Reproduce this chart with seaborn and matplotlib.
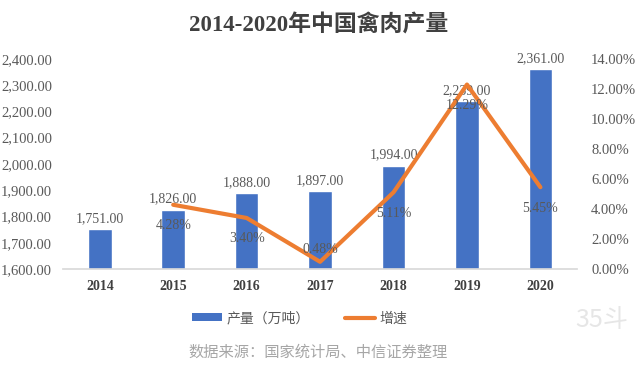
import numpy as np
import matplotlib
matplotlib.use("Agg")
import matplotlib.pyplot as plt
import seaborn as sns
from matplotlib.patches import Patch
from matplotlib.lines import Line2D
from matplotlib.ticker import MultipleLocator

years = ["2014", "2015", "2016", "2017", "2018", "2019", "2020"]
output = [1751, 1826, 1888, 1897, 1994, 2239, 2361]
growth_years = ["2015", "2016", "2017", "2018", "2019", "2020"]
growth = [4.28, 3.40, 0.48, 5.11, 12.29, 5.45]

sns.set_theme(style="white")
plt.rcParams["font.family"] = ["Liberation Serif", "Noto Sans CJK SC"]

BLUE = "#4472C4"
ORANGE = "#ED7D31"

fig = plt.figure(figsize=(6.37, 3.68), dpi=100)
ax = fig.add_axes([0.099, 0.269, 0.807, 0.571])

# bars
sns.barplot(x=years, y=output, color=BLUE, width=0.32, saturation=1, ax=ax)
ax.set_ylim(1600, 2400)
ax.set_xlim(-0.5, 6.5)
ax.yaxis.set_major_locator(MultipleLocator(100))
ax.yaxis.set_major_formatter("{x:,.2f}")
ax.tick_params(axis="y", labelsize=10.5, labelcolor="#595959", length=0, pad=8)
ax.tick_params(axis="x", labelsize=10, labelcolor="#404040", length=0, pad=8)
for lab in ax.get_xticklabels():
    lab.set_fontweight("bold")
for s in ["top", "left", "right"]:
    ax.spines[s].set_visible(False)
ax.spines["bottom"].set_color("#d9d9d9")
ax.set_xlabel("")
ax.set_ylabel("")

# bar labels
for i, v in enumerate(output):
    ax.annotate(f"{v:,.2f}", (i, v), xytext=(0, 3), textcoords="offset points",
                ha="center", va="bottom", fontsize=10, color="#595959")

# growth line on the right axis
ax2 = ax.twinx()
gx = [years.index(y) for y in growth_years]
sns.lineplot(x=gx, y=growth, color=ORANGE, linewidth=3, ax=ax2)
ax2.lines[0].set_solid_joinstyle("round")
ax2.set_ylim(0, 14)
ax2.yaxis.set_major_locator(MultipleLocator(2))
ax2.yaxis.set_major_formatter("{x:.2f}%")
ax2.tick_params(axis="y", labelsize=10.5, labelcolor="#595959", length=0, pad=10)
for s in ["top", "left", "right", "bottom"]:
    ax2.spines[s].set_visible(False)
ax2.set_ylabel("")

# line labels (below the point, the lowest one sits above)
for x, g in zip(gx, growth):
    dy = -15 if g > 1 else 9
    ax2.annotate(f"{g:.2f}%", (x, g), xytext=(0, dy), textcoords="offset points",
                 ha="center", va="center", fontsize=10, color="#595959")

fig.text(0.5, 0.93, "2014-2020年中国禽肉产量", ha="center", va="center",
         fontsize=16.5, fontweight="bold", color="#404040")

handles = [Patch(facecolor=BLUE, edgecolor="none"),
           Line2D([0], [0], color=ORANGE, linewidth=3)]
fig.legend(handles, ["产量（万吨）", "增速"], loc="center", bbox_to_anchor=(0.47, 0.135),
           ncol=2, frameon=False, labelcolor="#595959",
           handlelength=2.2, handleheight=0.5, columnspacing=2.5, handletextpad=0.3,
           prop={"family": "Noto Sans CJK SC", "size": 10})

fig.text(0.5, 0.043, "数据来源：国家统计局、中信证券整理", ha="center", va="center",
         fontsize=11, color="#a6a6a6", family="Noto Sans CJK SC")

fig.text(0.945, 0.13, "35斗", ha="center", va="center", fontsize=18,
         color="#e6e6e6", family="Noto Sans CJK SC")

fig.savefig("out.png", dpi=100)
